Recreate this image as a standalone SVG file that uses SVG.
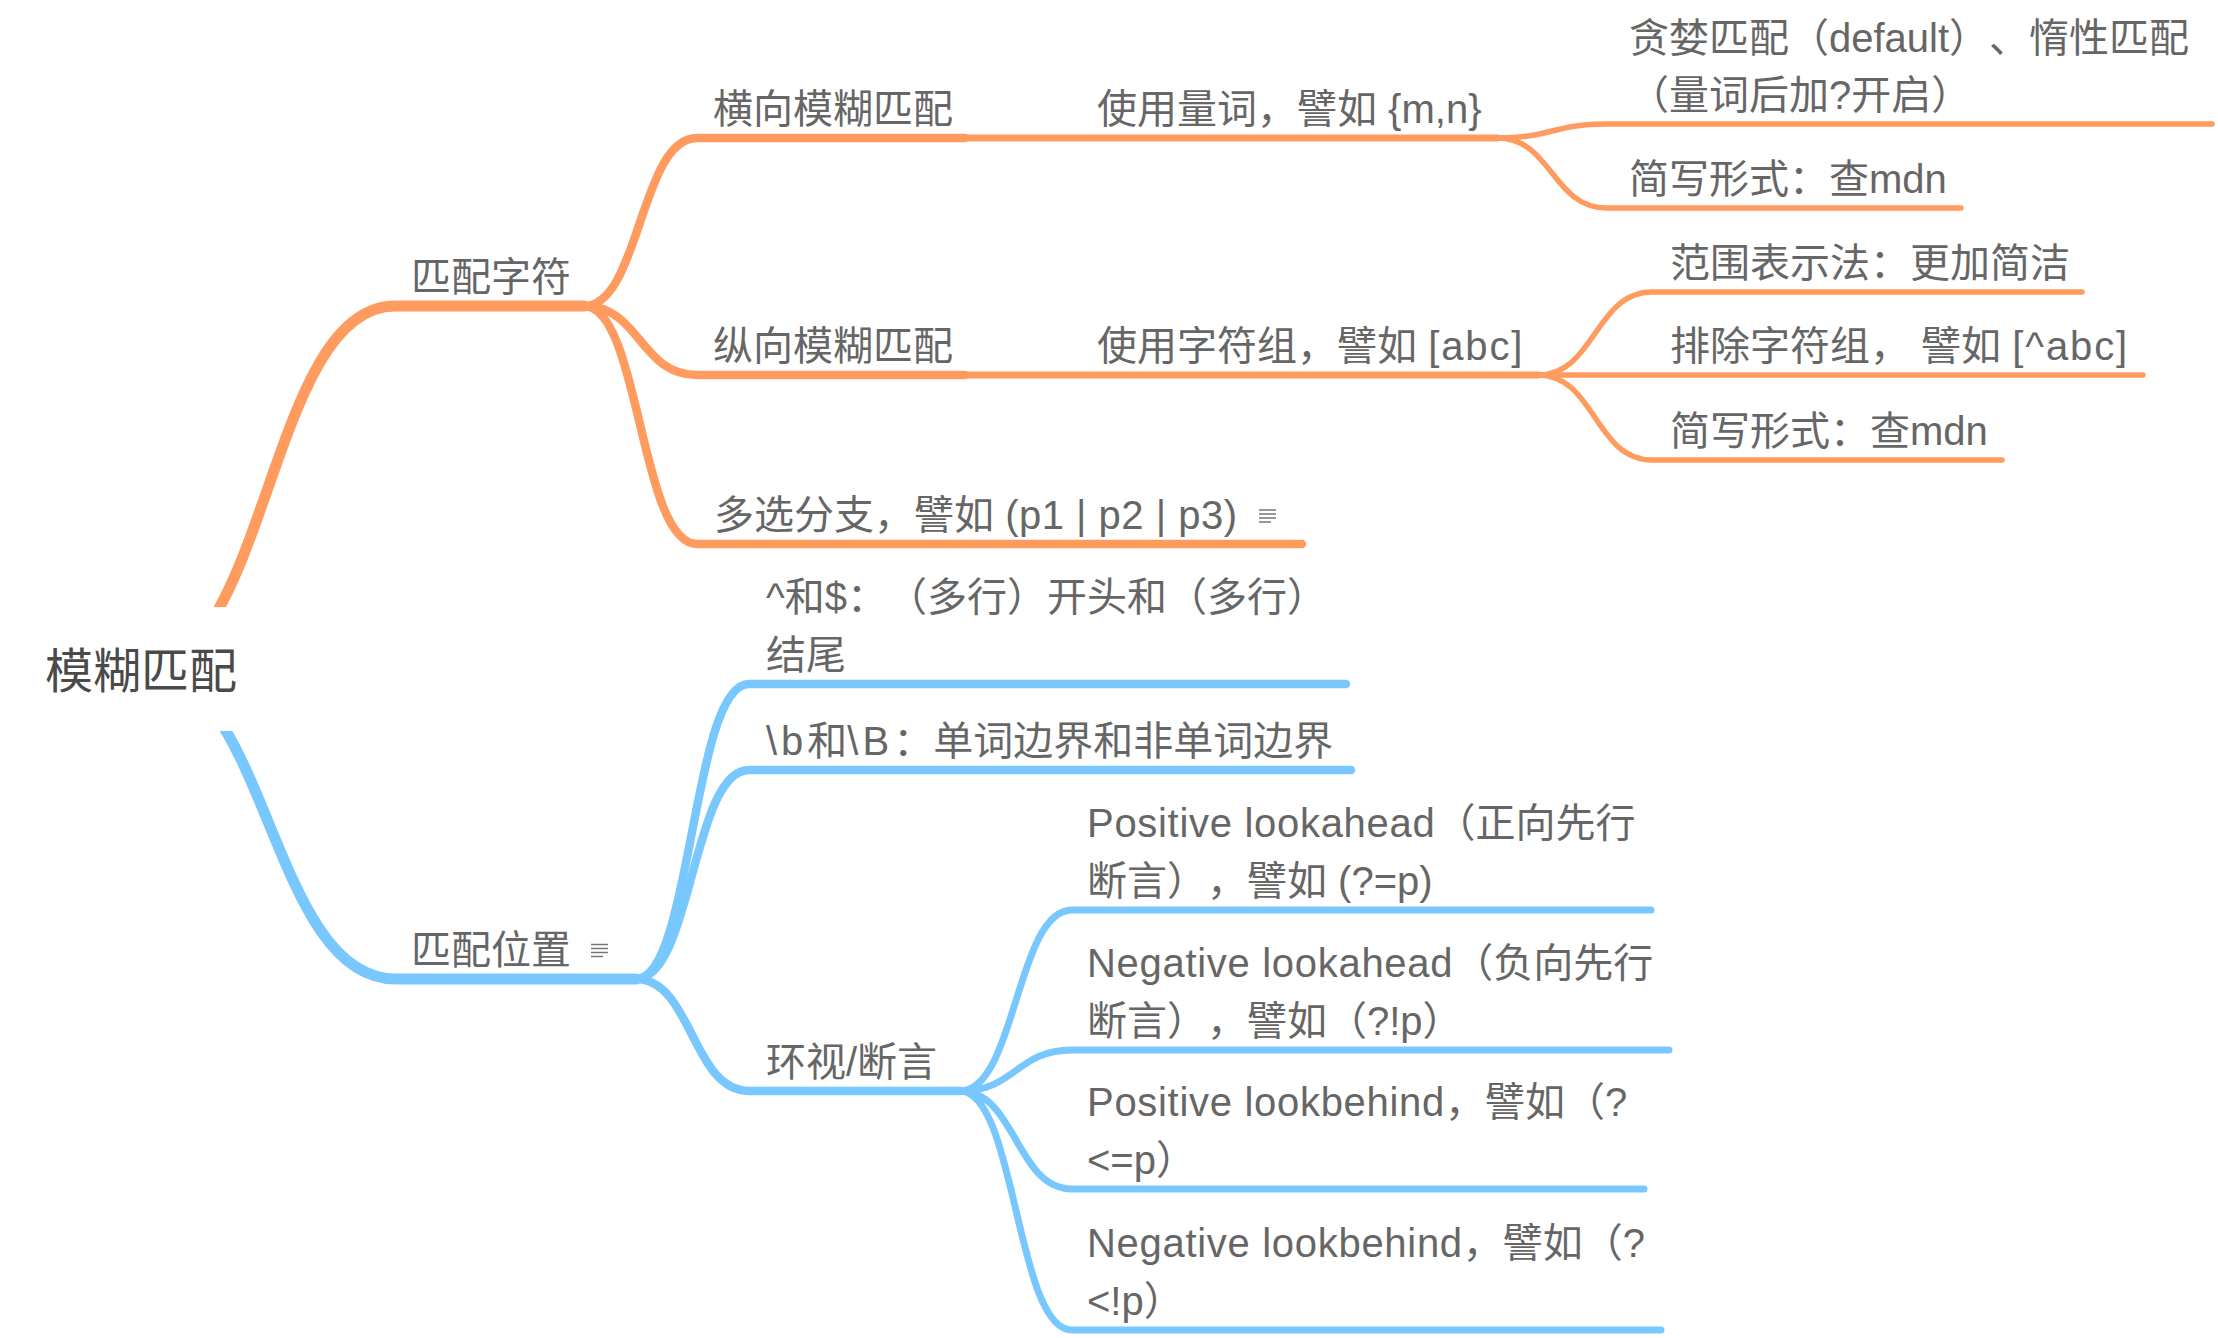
<svg xmlns="http://www.w3.org/2000/svg" width="2218" height="1338" viewBox="0 0 2218 1338">
<style>
.c{fill:none;stroke-linecap:round;stroke-linejoin:round}
.o{stroke:#FF9B5E}
.b{stroke:#78C8FF}
.w1{stroke-width:11}
.w2{stroke-width:8.5}
.w3{stroke-width:7}
.w4{stroke-width:5.5}
text{font-family:"Liberation Sans","Noto Sans CJK SC",sans-serif;font-size:40px;fill:#666666;text-spacing-trim:space-all;font-feature-settings:"chws" 0,"halt" 0,"palt" 0}
.root{font-size:48px;fill:#4a4a4a}
.l1{letter-spacing:0.7px}
.l2{letter-spacing:1.9px}
.l4{letter-spacing:4px}
.note{stroke:#777777;stroke-width:1.6;fill:none}
</style>
<rect width="2218" height="1338" fill="#ffffff"/>
<g id="connectors">
<path class="c o w1" d="M142,669 C268,669 268,306 395,306 L584,306"/>
<path class="c o w2" d="M584,306 C640,306 640,138 697,138 L965,138"/>
<path class="c o w2" d="M584,306 C640,306 640,375 697,375 L965,375"/>
<path class="c o w2" d="M584,306 C640,306 640,544 697,544 L1302,544"/>
<path class="c o w3" d="M965,138 L1497,138"/>
<path class="c o w3" d="M965,375 L1538,375"/>
<path class="c o w4" d="M1497,138 C1552,138 1552,124 1607,124 L2212,124"/>
<path class="c o w4" d="M1497,138 C1552,138 1552,208 1607,208 L1961,208"/>
<path class="c o w4" d="M1538,375 C1595,375 1595,292 1652,292 L2082,292"/>
<path class="c o w4" d="M1538,375 L2143,375"/>
<path class="c o w4" d="M1538,375 C1595,375 1595,460 1652,460 L2002,460"/>
<path class="c b w1" d="M142,669 C269,669 269,979 396,979 L636,979"/>
<path class="c b w2" d="M636,979 C692,979 692,684 749,684 L1346,684"/>
<path class="c b w2" d="M636,979 C692,979 692,770 749,770 L1351,770"/>
<path class="c b w2" d="M636,979 C692,979 692,1091 749,1091 L960,1091"/>
<path class="c b w3" d="M960,1091 C1016,1091 1016,910 1072,910 L1651,910"/>
<path class="c b w3" d="M960,1091 C1016,1091 1016,1050 1072,1050 L1669,1050"/>
<path class="c b w3" d="M960,1091 C1016,1091 1016,1189 1072,1189 L1644,1189"/>
<path class="c b w3" d="M960,1091 C1016,1091 1016,1330 1072,1330 L1661,1330"/>
</g>
<g id="root">
<rect x="10" y="607" width="264" height="124" fill="#ffffff"/>
<text class="root" x="45" y="688">模糊匹配</text>
</g>
<g id="n-match-char"><text x="411" y="291">匹配字符</text></g>
<g id="n-horizontal"><text x="713" y="123">横向模糊匹配</text></g>
<g id="n-quantifier"><text x="1097" y="123">使用量词，譬如 {m,n}</text></g>
<g id="n-greedy"><text x="1629" y="52">贪婪匹配（default）、惰性匹配</text><text x="1629" y="109">（量词后加?开启）</text></g>
<g id="n-short1"><text x="1629" y="193">简写形式：查mdn</text></g>
<g id="n-vertical"><text x="713" y="360">纵向模糊匹配</text></g>
<g id="n-charclass"><text x="1097" y="360">使用字符组，譬如 <tspan class="l2">[abc]</tspan></text></g>
<g id="n-range"><text x="1670" y="277">范围表示法：更加简洁</text></g>
<g id="n-exclude"><text x="1670" y="360">排除字符组， 譬如 <tspan class="l2">[^abc]</tspan></text></g>
<g id="n-short2"><text x="1670" y="445">简写形式：查mdn</text></g>
<g id="n-alternation"><text x="714" y="529">多选分支，譬如 <tspan letter-spacing="0.5">(p1 | p2 | p3)</tspan></text>
<path class="note" d="M1259,510 H1276 M1259,514 H1276 M1259,518 H1276 M1259,522 H1271"/></g>
<g id="n-match-pos"><text x="411" y="964">匹配位置</text>
<path class="note" d="M591,944.5 H608 M591,948.5 H608 M591,952.5 H608 M591,956.5 H603"/></g>
<g id="n-anchors"><text x="766" y="611">^和$：（多行）开头和（多行）</text><text x="766" y="669">结尾</text></g>
<g id="n-boundary"><text x="766" y="755"><tspan class="l4">\b</tspan>和<tspan class="l4">\B</tspan>：单词边界和非单词边界</text></g>
<g id="n-lookaround"><text x="766" y="1076">环视/断言</text></g>
<g id="n-pla"><text x="1087" y="837"><tspan class="l1">Positive lookahead</tspan>（正向先行</text><text x="1087" y="895">断言），譬如 (?=p)</text></g>
<g id="n-nla"><text x="1087" y="977"><tspan class="l1">Negative lookahead</tspan>（负向先行</text><text x="1087" y="1035">断言），譬如（?!p）</text></g>
<g id="n-plb"><text x="1087" y="1116"><tspan class="l1">Positive lookbehind</tspan>，譬如（?</text><text x="1087" y="1174">&lt;=p）</text></g>
<g id="n-nlb"><text x="1087" y="1257"><tspan class="l1">Negative lookbehind</tspan>，譬如（?</text><text x="1087" y="1315">&lt;!p）</text></g>
</svg>
